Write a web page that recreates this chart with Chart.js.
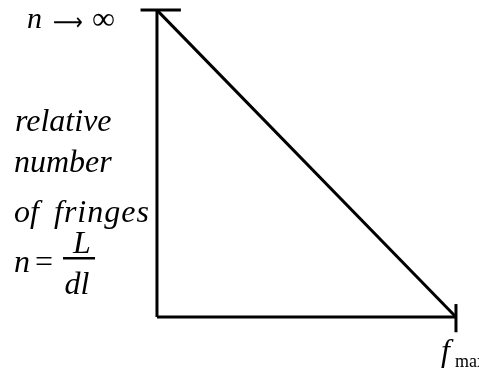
<!DOCTYPE html>
<html>
<head>
<meta charset="utf-8">
<script src="https://cdn.jsdelivr.net/npm/chart.js@4.4.1/dist/chart.umd.min.js"></script>
<style>
  html, body { margin: 0; padding: 0; background: #fff; }
  #box { position: relative; width: 479px; height: 374px; }
</style>
</head>
<body>
<div id="box"><canvas id="grafico" width="479" height="374"></canvas></div>
<script>
// ---------------- DADOS ----------------
// frequencia normalizada (0 .. f_max) e numero relativo de franjas
const freq = [0, 1];
const franjas = [1, 0];

// eixos e marcas nas pontas
const eixoVertX = [0, 0];
const eixoVertY = [0, 1];
const eixoHorX = [0, 1];
const eixoHorY = [0, 0];
const marcaTopoX = [-0.055, 0.08];
const marcaTopoY = [1, 1];
const marcaDirX = [1, 1];
const marcaDirY = [-0.05, 0.042];

// limites das escalas
const xMin = -0.525, xMax = 1.077;
const yMin = -0.186, yMax = 1.033;

const par = (xs, ys) => xs.map((x, i) => ({ x: x, y: ys[i] }));

function serie(xs, ys) {
  return {
    data: par(xs, ys),
    borderColor: '#000',
    borderWidth: 3,
    pointRadius: 0,
    showLine: true,
    fill: false,
    tension: 0
  };
}

// ---------------- TEXTOS ----------------
const serif = '"Liberation Serif", "Times New Roman", serif';

const textos = {
  id: 'textos',
  afterDraw(chart) {
    const c = chart.ctx;
    c.save();
    c.fillStyle = '#000';
    c.textBaseline = 'alphabetic';
    c.textAlign = 'left';

    // n -> infinito
    c.font = 'italic 30px ' + serif;
    c.fillText('n', 27, 28);
    // seta longa e fina, esticada para ~30px
    c.font = '24px "DejaVu Sans"';
    const larg = c.measureText('\u27F6').width;
    c.save();
    c.translate(53, 30);
    c.scale(30 / larg, 1);
    c.fillText('\u27F6', 0, 0);
    c.restore();
    c.font = '32px ' + serif;
    c.fillText('\u221E', 92, 29);

    // rotulo do eixo vertical
    c.font = 'italic 32px ' + serif;
    c.fillText('relative', 15, 131);
    c.fillText('number', 14, 172);
    c.fillText('of', 14, 222);
    c.letterSpacing = '1px';
    c.fillText('fringes', 54, 222);
    c.letterSpacing = '0px';

    // n = L / dl
    c.fillText('n', 14, 272);
    c.font = '32px ' + serif;
    c.fillText('=', 35, 272);
    c.fillRect(63, 257, 32, 2.5);
    c.font = 'italic 32px ' + serif;
    c.textAlign = 'center';
    c.fillText('L', 82, 253);
    c.fillText('dl', 77, 294);

    // f_max
    c.textAlign = 'left';
    c.font = 'italic 32px ' + serif;
    c.fillText('f', 441, 361);
    c.font = '18px ' + serif;
    c.fillText('max', 455, 367);
    c.restore();
  }
};

// ---------------- GRAFICO ----------------
const ctx = document.getElementById('grafico').getContext('2d');
const grafico = new Chart(ctx, {
  type: 'scatter',
  data: {
    datasets: [
      serie(freq, franjas),
      serie(eixoVertX, eixoVertY),
      serie(eixoHorX, eixoHorY),
      serie(marcaTopoX, marcaTopoY),
      serie(marcaDirX, marcaDirY)
    ]
  },
  options: {
    responsive: false,
    animation: false,
    layout: { padding: 0 },
    scales: {
      x: { type: 'linear', min: xMin, max: xMax, display: false },
      y: { type: 'linear', min: yMin, max: yMax, display: false }
    },
    plugins: {
      legend: { display: false },
      tooltip: { enabled: false }
    }
  },
  plugins: [textos]
});
</script>
</body>
</html>
